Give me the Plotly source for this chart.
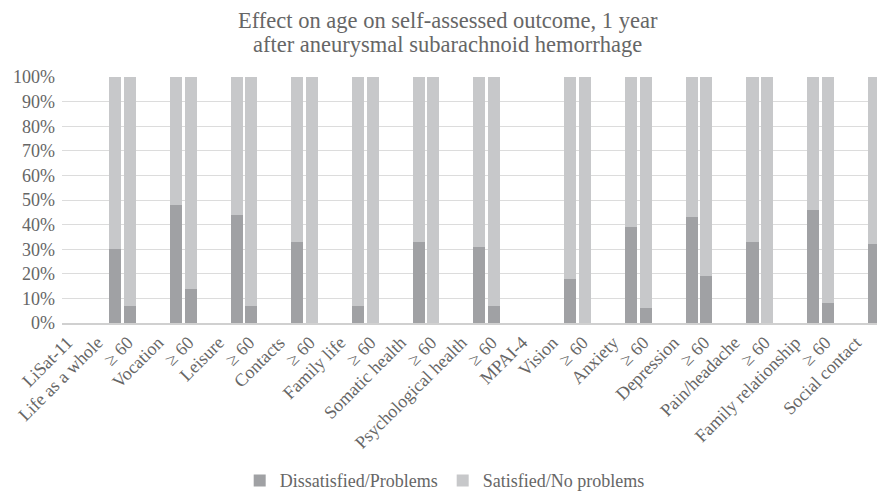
import plotly.graph_objects as go

categories = ["LiSat-11", "Life as a whole", "≥ 60", "Vocation", "≥ 60", "Leisure", "≥ 60",
              "Contacts", "≥ 60", "Family life", "≥ 60", "Somatic health", "≥ 60",
              "Psychological health", "≥ 60", "MPAI-4", "Vision", "≥ 60", "Anxiety", "≥ 60",
              "Depression", "≥ 60", "Pain/headache", "≥ 60", "Family relationship", "≥ 60",
              "Social contact", "≥ 60"]
dissatisfied = [None, 30, 7, 48, 14, 44, 7, 33, 0, 7, 0, 33, 0, 31, 7, None, 18, 0,
                39, 6, 43, 19, 33, 0, 46, 8, 32, 0]
satisfied = [None if v is None else 100 - v for v in dissatisfied]
y_ticks = [0, 10, 20, 30, 40, 50, 60, 70, 80, 90, 100]
title_lines = ["Effect on age on self-assessed outcome, 1 year",
               "after aneurysmal subarachnoid hemorrhage"]

idx = list(range(len(categories)))
bar_w = 0.40
offsets = [-0.46 if c == "≥ 60" else 0.06 for c in categories]

FONT = "Liberation Serif, Times New Roman, serif"
TXT = "#666666"
DARK = "#A0A1A4"
LIGHT = "#C7C8CA"

fig = go.Figure()
fig.add_trace(go.Bar(x=idx, y=dissatisfied, name="Dissatisfied/Problems",
                     marker=dict(color=DARK, line=dict(width=0)),
                     width=bar_w, offset=offsets))
fig.add_trace(go.Bar(x=idx, y=satisfied, name="Satisfied/No problems",
                     marker=dict(color=LIGHT, line=dict(width=0)),
                     width=bar_w, offset=offsets))

fig.update_layout(
    width=877, height=484,
    barmode="stack",
    paper_bgcolor="white", plot_bgcolor="white",
    font=dict(family=FONT, color=TXT, size=18),
    margin=dict(l=54, r=0, t=69, b=169, pad=0, autoexpand=False),
    legend=dict(orientation="h", traceorder="normal",
                x=0.465, xanchor="center", y=-0.641, yanchor="middle",
                font=dict(family=FONT, size=18, color=TXT),
                itemwidth=30, tracegroupgap=0),
    bargap=0,
)
for line, yy in zip(title_lines, [1.2314, 1.132]):
    fig.add_annotation(text=line, xref="paper", yref="paper", x=0.469, y=yy,
                       xanchor="center", yanchor="middle", showarrow=False,
                       font=dict(family=FONT, size=22.5, color=TXT))

fig.update_xaxes(
    tickmode="array", tickvals=idx, ticktext=categories, tickangle=-45,
    range=[-0.5, 26.63], showgrid=False, showline=True, linecolor="#D0D0D0",
    linewidth=2, ticks="", tickfont=dict(family=FONT, size=18, color=TXT),
    zeroline=False, automargin=False, ticklabelshift=-10,
)
fig.update_yaxes(
    range=[0, 100], tickmode="array", tickvals=y_ticks,
    ticktext=[f"{v}%" for v in y_ticks], showgrid=True, gridcolor="#DCDCDC",
    gridwidth=1, zeroline=False, showline=False, ticks="",
    tickfont=dict(family=FONT, size=18, color=TXT), automargin=False,
    ticklabelstandoff=6,
)

fig.write_html("out.html")
